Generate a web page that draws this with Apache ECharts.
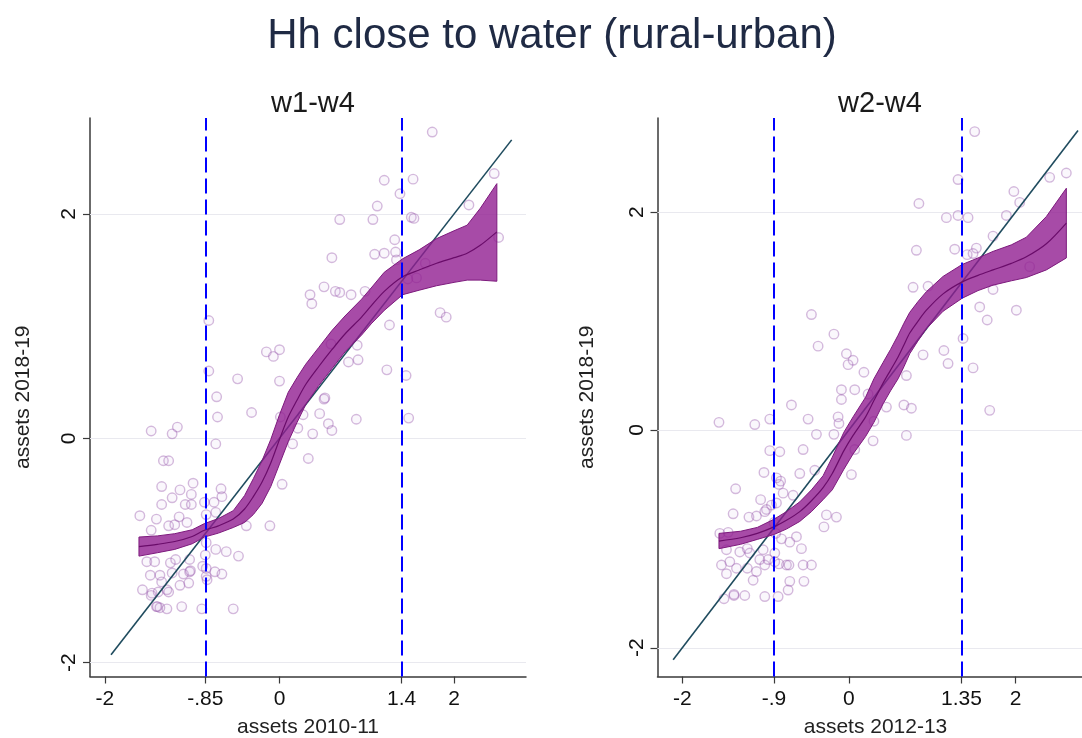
<!DOCTYPE html>
<html>
<head>
<meta charset="utf-8">
<title>Hh close to water (rural-urban)</title>
<script src="https://cdn.jsdelivr.net/npm/echarts@6/dist/echarts.min.js"></script>
<style>
  html, body { margin: 0; padding: 0; background: #ffffff; }
  #chart { width: 1082px; height: 738px; }
</style>
</head>
<body>
<div id="chart"></div>
<script>
// ---- Text ----
const mainTitle = 'Hh close to water (rural-urban)';
const panelTitles = ['w1-w4', 'w2-w4'];
const xTitles = ['assets 2010-11', 'assets 2012-13'];
const yTitle = 'assets 2018-19';

// ---- Tick positions and labels ----
const xTicksL = [-2, -0.85, 0, 1.4, 2];
const xTickLabelsL = ['-2', '-.85', '0', '1.4', '2'];
const xTicksR = [-2, -0.9, 0, 1.35, 2];
const xTickLabelsR = ['-2', '-.9', '0', '1.35', '2'];
const yTicks = [-2, 0, 2];
const yTickLabels = ['-2', '0', '2'];

// ---- Cut-offs (dashed verticals) ----
const cutsL = [-0.85, 1.4];
const cutsR = [-0.9, 1.35];

// ---- 45-degree reference line end points ----
const diagL = [[-1.93, -1.93], [2.66, 2.66]];
const diagR = [[-2.11, -2.11], [2.75, 2.75]];

// ---- Household points, w1-w4 panel ----
const pointsL = [
  [1.75, 2.73], [2.46, 2.36], [1.20, 2.30], [1.53, 2.31], [1.38, 2.18], [1.12, 2.07], [2.17, 2.08],
  [0.69, 1.95], [1.07, 1.95], [1.51, 1.97], [1.54, 1.96], [2.51, 1.79], [1.32, 1.77], [0.60, 1.61],
  [1.09, 1.64], [1.20, 1.65], [1.33, 1.66], [1.34, 1.59], [0.35, 1.28], [0.37, 1.20], [0.51, 1.35],
  [0.64, 1.31], [0.69, 1.30], [0.82, 1.28], [0.98, 1.31], [1.57, 1.43], [1.67, 1.56], [1.47, 1.42],
  [1.84, 1.12], [1.91, 1.08], [1.26, 1.01], [0.59, 0.84], [0.89, 0.83], [0.79, 0.68], [0.90, 0.70],
  [-0.81, 1.05], [-0.81, 0.60], [-0.15, 0.77], [-0.07, 0.73], [0.0, 0.79], [-0.48, 0.53], [0.0, 0.51],
  [1.23, 0.61], [1.45, 0.56], [-0.72, 0.37], [0.51, 0.35], [0.52, 0.36], [-0.32, 0.23], [-0.71, 0.19],
  [0.01, 0.19], [0.27, 0.21], [0.46, 0.22], [0.56, 0.13], [0.60, 0.07], [0.88, 0.17], [1.48, 0.18],
  [0.21, 0.09], [0.38, 0.04], [-0.73, -0.05], [0.15, -0.05], [0.33, -0.18], [0.03, -0.41],
  [-1.47, 0.065], [-1.23, 0.04], [-1.17, 0.10], [-1.33, -0.20], [-1.27, -0.20], [-1.35, -0.43],
  [-0.99, -0.40], [-1.14, -0.46], [-1.01, -0.50], [-0.67, -0.45], [-0.66, -0.52], [-1.23, -0.53],
  [-1.35, -0.59], [-1.08, -0.59], [-1.01, -0.59], [-0.86, -0.57], [-0.75, -0.57], [-1.60, -0.69],
  [-1.41, -0.72], [-1.15, -0.70], [-1.06, -0.75], [-0.84, -0.68], [-0.73, -0.66], [-1.47, -0.82],
  [-1.27, -0.78], [-0.38, -0.78], [-0.11, -0.78], [-1.20, -0.77], [-0.84, -0.93], [-0.85, -1.04],
  [-0.73, -0.99], [-0.61, -1.01], [-0.47, -1.05], [-0.84, -1.16], [-1.52, -1.10], [-1.43, -1.10],
  [-1.25, -1.11], [-1.03, -1.08], [-1.19, -1.08], [-0.88, -1.14], [-1.48, -1.22], [-1.37, -1.22],
  [-1.23, -1.20], [-1.10, -1.21], [-1.03, -1.19], [-0.74, -1.19], [-0.66, -1.21], [-0.84, -1.23],
  [-1.57, -1.35], [-1.46, -1.38], [-1.35, -1.28], [-1.29, -1.35], [-1.14, -1.31], [-1.04, -1.29],
  [-0.83, -1.26], [-1.27, -1.37], [-1.39, -1.37], [-1.41, -1.50], [-1.29, -1.52], [-1.12, -1.50],
  [-0.89, -1.52], [-0.53, -1.52], [-1.37, -1.51], [-1.47, -1.40], [-1.40, -1.50], [-1.02, -1.18]
];

// ---- Household points, w2-w4 panel ----
const pointsR = [
  [1.51, 2.74], [1.31, 2.30], [2.41, 2.32], [2.61, 2.36], [1.98, 2.19], [2.05, 2.09], [0.84, 2.08],
  [1.17, 1.95], [1.31, 1.97], [1.43, 1.95], [1.89, 1.97], [1.73, 1.78], [1.53, 1.67], [1.27, 1.66],
  [0.81, 1.65], [1.42, 1.61], [1.49, 1.62], [0.77, 1.31], [0.95, 1.32], [1.73, 1.29], [1.57, 1.13],
  [1.66, 1.01], [2.01, 1.10], [2.17, 1.50],
  [-0.45, 1.06], [-0.18, 0.88], [-0.37, 0.77], [-0.03, 0.70], [0.05, 0.64], [-0.01, 0.60], [0.89, 0.69],
  [1.14, 0.73], [1.19, 0.61], [1.37, 0.84], [1.49, 0.57], [0.18, 0.53], [0.69, 0.50], [-0.09, 0.37],
  [0.07, 0.37], [0.23, 0.33], [-0.09, 0.28], [-0.69, 0.23], [-0.49, 0.10], [-0.13, 0.12], [0.45, 0.21],
  [0.66, 0.23], [0.75, 0.20], [1.69, 0.18], [-1.56, 0.07], [-1.13, 0.05], [-0.95, 0.10], [-0.12, 0.06],
  [0.30, 0.08], [-0.39, -0.04], [-0.18, -0.04], [0.29, -0.10], [0.69, -0.05], [-0.95, -0.19],
  [-0.83, -0.20], [-0.55, -0.18], [0.07, -0.18], [-1.02, -0.39], [-0.87, -0.44], [-0.82, -0.47],
  [-0.59, -0.40], [-0.41, -0.37], [0.03, -0.41], [-1.36, -0.54], [-0.84, -0.50], [-0.79, -0.58],
  [-0.67, -0.60], [-1.06, -0.64], [-0.87, -0.67], [-0.93, -0.69], [-0.99, -0.73],
  [-1.39, -0.77], [-1.20, -0.80], [-1.11, -0.79], [-1.01, -0.75], [-0.27, -0.78], [-0.15, -0.80],
  [-0.30, -0.89], [-0.63, -0.98], [-0.71, -1.03], [-0.81, -1.00], [-0.90, -0.85], [-0.88, -0.95],
  [-1.55, -0.95], [-1.45, -0.94], [-1.47, -1.10], [-1.31, -1.12], [-1.22, -1.09], [-1.19, -1.13],
  [-1.03, -1.10], [-0.89, -1.13], [-0.57, -1.09], [-1.07, -1.19], [-1.01, -1.24], [-0.89, -1.21],
  [-0.75, -1.24], [-1.53, -1.24], [-1.43, -1.21], [-0.55, -1.24], [-0.45, -1.24], [-1.47, -1.32],
  [-1.11, -1.30], [-1.15, -1.38], [-0.71, -1.39], [-0.54, -1.39], [-1.35, -1.27], [-1.22, -1.27],
  [-0.97, -1.19], [-0.84, -1.23], [-0.72, -1.24], [-1.50, -1.55], [-1.38, -1.52], [-1.38, -1.51],
  [-1.25, -1.52], [-1.01, -1.53], [-0.85, -1.53], [-0.73, -1.47]
];

// ---- Local fit with confidence band, w1-w4 ----
const fitXL  = [-1.61, -1.4, -1.2, -1.0, -0.86, -0.7, -0.53, -0.4, -0.3, -0.2, -0.1, 0.0, 0.1, 0.2,
                0.3, 0.45, 0.6, 0.75, 0.94, 1.05, 1.2, 1.41, 1.6, 1.8, 2.0, 2.15, 2.3, 2.49];
const fitYL  = [-0.965, -0.945, -0.92, -0.875, -0.82, -0.78, -0.72, -0.63, -0.52, -0.39, -0.22, -0.01, 0.19, 0.34,
                0.48, 0.64, 0.79, 0.93, 1.08, 1.18, 1.31, 1.44, 1.50, 1.56, 1.61, 1.65, 1.72, 1.84];
const fitLoL = [-1.05, -1.02, -0.99, -0.94, -0.88, -0.845, -0.795, -0.75, -0.68, -0.58, -0.43, -0.23, -0.03, 0.14,
                0.30, 0.47, 0.62, 0.77, 0.92, 1.02, 1.14, 1.28, 1.32, 1.36, 1.39, 1.41, 1.41, 1.40];
const fitHiL = [-0.88, -0.87, -0.85, -0.815, -0.76, -0.715, -0.645, -0.51, -0.36, -0.20, -0.01, 0.21, 0.41, 0.54,
                0.66, 0.81, 0.96, 1.09, 1.24, 1.34, 1.48, 1.60, 1.68, 1.78, 1.85, 1.90, 2.05, 2.27];

// ---- Local fit with confidence band, w2-w4 ----
const fitXR  = [-1.56, -1.3, -1.1, -0.9, -0.75, -0.59, -0.45, -0.31, -0.2, -0.06, 0.05, 0.2, 0.3, 0.41,
                0.5, 0.59, 0.66, 0.73, 0.83, 0.93, 1.13, 1.36, 1.55, 1.73, 1.95, 2.13, 2.37, 2.61];
const fitYR  = [-1.02, -0.99, -0.95, -0.89, -0.83, -0.75, -0.65, -0.53, -0.40, -0.19, -0.05, 0.12, 0.27, 0.43,
                0.55, 0.67, 0.78, 0.89, 1.00, 1.10, 1.25, 1.36, 1.42, 1.47, 1.53, 1.59, 1.71, 1.90];
const fitLoR = [-1.09, -1.05, -1.005, -0.96, -0.91, -0.84, -0.75, -0.64, -0.55, -0.36, -0.22, -0.06, 0.07, 0.24,
                0.36, 0.47, 0.58, 0.70, 0.82, 0.93, 1.09, 1.21, 1.28, 1.33, 1.37, 1.40, 1.47, 1.58];
const fitHiR = [-0.95, -0.93, -0.895, -0.82, -0.75, -0.66, -0.55, -0.42, -0.25, -0.02, 0.12, 0.30, 0.47, 0.62,
                0.74, 0.87, 0.98, 1.08, 1.18, 1.27, 1.41, 1.52, 1.58, 1.64, 1.70, 1.77, 1.96, 2.22];

// ---- Styling ----
const FONT = '"Liberation Sans", Arial, Helvetica, sans-serif';
const AXIS_COLOR = '#3a3a3a';
const PT_BORDER = 'rgba(150, 85, 170, 0.5)';
const PT_FILL = 'rgba(205, 170, 220, 0.12)';
const BAND_FILL = 'rgba(145, 30, 145, 0.80)';
const BAND_EDGE = '#7d1a7d';
const FIT_LINE = '#6a0c6a';
const DIAG_COLOR = '#1f4b5e';
const CUT_COLOR = '#0000ff';

function tickFormatter(ticks, labels) {
  return function (v) {
    let best = 0;
    for (let i = 1; i < ticks.length; i++) {
      if (Math.abs(ticks[i] - v) < Math.abs(ticks[best] - v)) best = i;
    }
    return labels[best];
  };
}

function xAxisFor(idx, min, max, ticks, labels, title) {
  return {
    type: 'value', gridIndex: idx, min: min, max: max,
    name: title, nameLocation: 'middle', nameGap: 40,
    nameTextStyle: { fontFamily: FONT, fontSize: 21, color: '#222' },
    axisLine: { onZero: false, lineStyle: { color: AXIS_COLOR, width: 1.5 } },
    axisTick: { show: true, customValues: ticks, length: 7, lineStyle: { color: AXIS_COLOR, width: 1.2 } },
    axisLabel: { customValues: ticks, formatter: tickFormatter(ticks, labels),
                 fontFamily: FONT, fontSize: 21, color: '#111', margin: 12 },
    splitLine: { show: false }
  };
}

function yAxisFor(idx, min, max, gap) {
  return {
    type: 'value', gridIndex: idx, min: min, max: max,
    name: yTitle, nameLocation: 'middle', nameGap: gap,
    nameTextStyle: { fontFamily: FONT, fontSize: 21, color: '#222' },
    axisLine: { onZero: false, lineStyle: { color: AXIS_COLOR, width: 1.5 } },
    axisTick: { show: true, customValues: yTicks, length: 7, lineStyle: { color: AXIS_COLOR, width: 1.2 } },
    axisLabel: { customValues: yTicks, formatter: tickFormatter(yTicks, yTickLabels), rotate: 90,
                 fontFamily: FONT, fontSize: 21, color: '#111', margin: 10 },
    splitLine: { show: false }
  };
}

function bandSeries(idx, xs, lo, hi) {
  return {
    type: 'custom', xAxisIndex: idx, yAxisIndex: idx, z: 4, silent: true,
    data: xs.map((x, i) => [x, lo[i], hi[i]]),
    encode: { x: 0, y: [1, 2] },
    renderItem: function (params, api) {
      if (params.dataIndex !== 0) return null;
      const pts = [];
      for (let i = 0; i < xs.length; i++) pts.push(api.coord([xs[i], hi[i]]));
      for (let i = xs.length - 1; i >= 0; i--) pts.push(api.coord([xs[i], lo[i]]));
      return {
        type: 'polygon',
        shape: { points: pts },
        style: { fill: BAND_FILL, stroke: BAND_EDGE, lineWidth: 1, lineJoin: 'round' }
      };
    }
  };
}

function panelSeries(idx, points, xs, ys, lo, hi, diag, cuts) {
  return [
    {
      type: 'scatter', xAxisIndex: idx, yAxisIndex: idx, z: 2, silent: true,
      data: points, symbol: 'circle', symbolSize: 9.5,
      itemStyle: { color: PT_FILL, borderColor: PT_BORDER, borderWidth: 1.4 },
      markLine: {
        silent: true, symbol: 'none', z: 1,
        label: { show: false },
        lineStyle: { color: '#e9e9ef', type: 'solid', width: 1.2 },
        data: yTicks.map(v => ({ yAxis: v }))
      }
    },
    {
      type: 'line', xAxisIndex: idx, yAxisIndex: idx, z: 3, silent: true,
      data: diag, showSymbol: false,
      lineStyle: { color: DIAG_COLOR, width: 1.6 }
    },
    bandSeries(idx, xs, lo, hi),
    {
      type: 'line', xAxisIndex: idx, yAxisIndex: idx, z: 5, silent: true,
      data: xs.map((x, i) => [x, ys[i]]), showSymbol: false, smooth: 0.3,
      lineStyle: { color: FIT_LINE, width: 1.2 },
      markLine: {
        silent: true, symbol: 'none', z: 6,
        label: { show: false },
        lineStyle: { color: CUT_COLOR, type: [15, 6], width: 2 },
        data: cuts.map(v => ({ xAxis: v }))
      }
    }
  ];
}

const chart = echarts.init(document.getElementById('chart'), null, { renderer: 'canvas' });

chart.setOption({
  backgroundColor: '#ffffff',
  animation: false,
  title: [
    { text: mainTitle, left: 547, top: 10, textAlign: 'center',
      textStyle: { fontFamily: FONT, fontSize: 42, fontWeight: 'normal', color: '#1f2a44' } },
    { text: panelTitles[0], left: 308, top: 84, textAlign: 'center',
      textStyle: { fontFamily: FONT, fontSize: 29, fontWeight: 'normal', color: '#1a1a1a' } },
    { text: panelTitles[1], left: 875, top: 84, textAlign: 'center',
      textStyle: { fontFamily: FONT, fontSize: 29, fontWeight: 'normal', color: '#1a1a1a' } }
  ],
  grid: [
    { left: 90, top: 118, width: 436, height: 558.5, outerBoundsMode: 'none' },
    { left: 657.5, top: 118, width: 436, height: 558.5, outerBoundsMode: 'none' }
  ],
  xAxis: [
    xAxisFor(0, -2.171, 2.824, xTicksL, xTickLabelsL, xTitles[0]),
    xAxisFor(1, -2.298, 2.936, xTicksR, xTickLabelsR, xTitles[1])
  ],
  yAxis: [
    yAxisFor(0, -2.123, 2.855, 56),
    yAxisFor(1, -2.264, 2.865, 60)
  ],
  series: [].concat(
    panelSeries(0, pointsL, fitXL, fitYL, fitLoL, fitHiL, diagL, cutsL),
    panelSeries(1, pointsR, fitXR, fitYR, fitLoR, fitHiR, diagR, cutsR)
  )
});
</script>
</body>
</html>
